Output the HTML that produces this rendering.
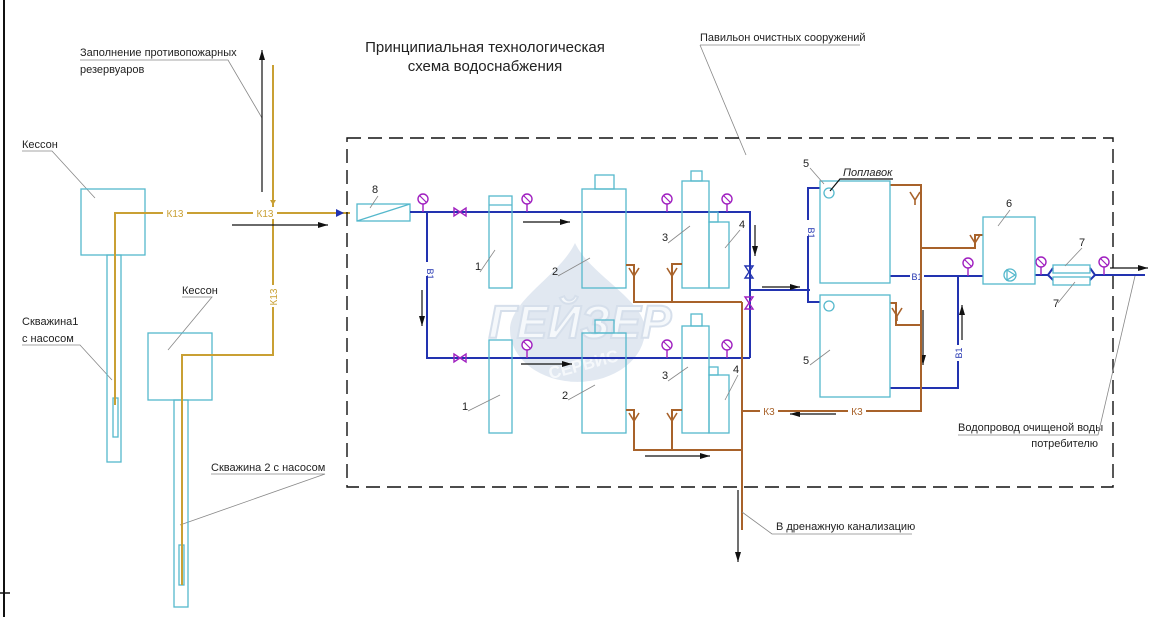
<!DOCTYPE html>
<html><head><meta charset="utf-8"><style>
html,body{margin:0;padding:0;background:#fff;}
svg{display:block;font-family:"Liberation Sans","DejaVu Sans",sans-serif;}
.t{font-size:11px;fill:#222;}
.c{fill:none;stroke:#55b8cc;stroke-width:1.3;}
.y{fill:none;stroke:#c9a034;stroke-width:2;}
.br{fill:none;stroke:#a8622a;stroke-width:2;}
.b{fill:none;stroke:#2233b0;stroke-width:2;}
.k{fill:none;stroke:#111;stroke-width:1.2;}
.l{fill:none;stroke:#888;stroke-width:0.8;}
.g{fill:#fff;stroke:#a020c0;stroke-width:1.4;}
</style></head><body>
<svg width="1151" height="617" viewBox="0 0 1151 617" xmlns="http://www.w3.org/2000/svg">
<defs>
<marker id="ah" markerWidth="10" markerHeight="6" refX="10" refY="3" orient="auto" markerUnits="userSpaceOnUse"><path d="M0,0 L10,3 L0,6z" fill="#111"/></marker>
<marker id="bh" markerWidth="8" markerHeight="6" refX="8" refY="3" orient="auto" markerUnits="userSpaceOnUse"><path d="M0,0 L8,3 L0,6z" fill="#2233b0"/></marker>
<g id="gauge"><line x1="0" y1="0" x2="0" y2="8" stroke="#a020c0" stroke-width="1.4"/><circle cx="0" cy="-5" r="5" class="g"/><line x1="-3.5" y1="-8.5" x2="3.5" y2="-1.5" stroke="#a020c0" stroke-width="1.2"/></g>
<g id="valve"><path d="M-6,-4 L6,4 L6,-4 L-6,4z" fill="none" stroke="#a020c0" stroke-width="1.4"/></g>
<g id="funnel"><path d="M-5,-5 L0,3 L5,-5 M0,3 V8" fill="none" stroke="#a8622a" stroke-width="1.6"/></g>
</defs>
<!-- left border -->
<line x1="4" y1="0" x2="4" y2="617" stroke="#111" stroke-width="2"/>
<line x1="0" y1="593" x2="10" y2="593" stroke="#111" stroke-width="1.5"/>

<!-- watermark -->
<g opacity="0.55">
<path d="M575,243 C560,275 510,300 510,330 A65,50 0 0 0 645,330 C645,300 590,275 575,243z" fill="#c9d6e6"/>
<text x="580" y="338" font-size="46" font-weight="bold" font-style="italic" fill="#eef3f8" stroke="#b5c6dc" stroke-width="2" text-anchor="middle">ГЕЙЗЕР</text>
<text x="585" y="370" font-size="17" font-weight="bold" fill="#eef3f8" text-anchor="middle" transform="rotate(-15 585 370)">СЕРВИС</text>
</g>

<!-- titles -->
<text x="485" y="52" font-size="15" fill="#222" text-anchor="middle">Принципиальная технологическая</text>
<text x="485" y="71" font-size="15" fill="#222" text-anchor="middle">схема водоснабжения</text>

<text x="80" y="56" class="t">Заполнение противопожарных</text>
<text x="80" y="73" class="t">резервуаров</text>
<polyline points="80,60 228,60 262,118" class="l"/>

<text x="700" y="41" class="t">Павильон очистных сооружений</text>
<polyline points="700,45 860,45" class="l"/><line x1="700" y1="45" x2="746" y2="155" class="l"/>

<text x="22" y="148" class="t">Кессон</text><polyline points="22,151 52,151 95,198" class="l"/>
<text x="182" y="294" class="t">Кессон</text><polyline points="182,297 212,297 168,350" class="l"/>
<text x="22" y="325" class="t">Скважина1</text><text x="22" y="342" class="t">с насосом</text>
<polyline points="22,345 80,345 112,380" class="l"/>
<text x="211" y="471" class="t">Скважина 2 с насосом</text>
<polyline points="211,474 325,474 180,525" class="l"/>

<!-- wells & kessons -->
<rect x="81" y="189" width="64" height="66" class="c"/>
<rect x="107" y="255" width="14" height="207" class="c"/>
<rect x="113" y="398" width="5" height="39" class="c"/>
<rect x="148" y="333" width="64" height="67" class="c"/>
<rect x="174" y="400" width="14" height="207" class="c"/>
<rect x="179" y="545" width="5" height="40" class="c"/>

<!-- yellow pipes -->
<polyline points="115,405 115,213 350,213" class="y"/>
<polyline points="273,65 273,355 182,355 182,585" class="y"/>
<rect x="163" y="207" width="24" height="12" fill="#fff"/><text x="175" y="217" font-size="10" fill="#c9a034" text-anchor="middle">К13</text>
<rect x="253" y="207" width="24" height="12" fill="#fff"/><text x="265" y="217" font-size="10" fill="#c9a034" text-anchor="middle">К13</text>
<rect x="267" y="285" width="12" height="22" fill="#fff"/><text x="277" y="297" font-size="10" fill="#c9a034" text-anchor="middle" transform="rotate(-90 277 297)">К13</text>
<path d="M270,200 L276,200 L273,205z" fill="#c9a034"/>
<line x1="262" y1="192" x2="262" y2="50" class="k" marker-end="url(#ah)"/>
<line x1="232" y1="225" x2="328" y2="225" class="k" marker-end="url(#ah)"/>
<path d="M336,209 L344,213 L336,217z" fill="#2233b0"/>

<!-- dashed pavilion -->
<rect x="347" y="138" width="766" height="349" fill="none" stroke="#111" stroke-width="1.4" stroke-dasharray="14,7"/>

<!-- filter 8 -->
<rect x="357" y="204" width="53" height="17" class="c"/><line x1="357" y1="221" x2="410" y2="204" class="c"/>
<text x="372" y="193" class="t">8</text><line x1="378" y1="196" x2="370" y2="208" class="l"/>

<!-- blue lines -->
<polyline points="410,212 750,212 750,358" class="b"/>
<polyline points="427,212 427,358 750,358" class="b"/>
<polyline points="750,290 810,290" class="b"/>
<polyline points="820,188 808,188 808,302 820,302" class="b"/>
<polyline points="890,276 983,276" class="b"/>
<polyline points="958,276 958,388 890,388" class="b"/>
<polyline points="1035,275 1048,275" class="b"/>
<path d="M1048,275 L1053,268 M1048,275 L1053,280 M1095,275 L1090,268 M1095,275 L1090,280" class="b" stroke-width="1.6"/>
<polyline points="1095,275 1145,275" class="b"/>
<rect x="419" y="262" width="14" height="14" fill="#fff"/><text x="432" y="269" font-size="9" fill="#2233b0" text-anchor="middle" transform="rotate(90 427 269)">В1</text>
<rect x="802" y="220" width="12" height="16" fill="#fff"/><text x="813" y="228" font-size="9" fill="#2233b0" text-anchor="middle" transform="rotate(90 808 228)">В1</text>
<rect x="910" y="270" width="14" height="12" fill="#fff"/><text x="917" y="280" font-size="9" fill="#2233b0" text-anchor="middle">В1</text>
<rect x="952" y="345" width="12" height="16" fill="#fff"/><text x="962" y="353" font-size="9" fill="#2233b0" text-anchor="middle" transform="rotate(-90 962 353)">В1</text>

<!-- valves & gauges -->
<use href="#valve" x="460" y="212"/><use href="#valve" x="460" y="358"/>
<g transform="translate(749,272) rotate(90)"><path d="M-6,-4 L6,4 L6,-4 L-6,4z" fill="none" stroke="#2233b0" stroke-width="1.4"/></g>
<g transform="translate(749,303) rotate(90)"><use href="#valve"/></g>
<use href="#gauge" x="423" y="204"/><use href="#gauge" x="527" y="204"/><use href="#gauge" x="667" y="204"/><use href="#gauge" x="727" y="204"/>
<use href="#gauge" x="527" y="350"/><use href="#gauge" x="667" y="350"/><use href="#gauge" x="727" y="350"/>
<use href="#gauge" x="968" y="268"/><use href="#gauge" x="1041" y="267"/><use href="#gauge" x="1104" y="267"/>

<!-- vessels top -->
<rect x="489" y="196" width="23" height="92" class="c"/><line x1="489" y1="205" x2="512" y2="205" class="c"/>
<rect x="582" y="189" width="44" height="99" class="c"/><rect x="595" y="175" width="19" height="14" class="c"/>
<rect x="682" y="181" width="27" height="107" class="c"/><rect x="691" y="171" width="11" height="10" class="c"/>
<rect x="709" y="222" width="20" height="66" class="c"/><rect x="709" y="212" width="9" height="10" class="c"/>
<!-- vessels bottom -->
<rect x="489" y="340" width="23" height="93" class="c"/>
<rect x="582" y="333" width="44" height="100" class="c"/><rect x="595" y="320" width="19" height="13" class="c"/>
<rect x="682" y="326" width="27" height="107" class="c"/><rect x="691" y="314" width="11" height="12" class="c"/>
<rect x="709" y="375" width="20" height="58" class="c"/><rect x="709" y="367" width="9" height="8" class="c"/>

<!-- labels -->
<text x="475" y="270" class="t">1</text><line x1="480" y1="272" x2="495" y2="250" class="l"/>
<text x="462" y="410" class="t">1</text><line x1="468" y1="411" x2="500" y2="395" class="l"/>
<text x="552" y="275" class="t">2</text><line x1="558" y1="276" x2="590" y2="258" class="l"/>
<text x="562" y="399" class="t">2</text><line x1="568" y1="400" x2="595" y2="385" class="l"/>
<text x="662" y="241" class="t">3</text><line x1="668" y1="243" x2="690" y2="226" class="l"/>
<text x="662" y="379" class="t">3</text><line x1="668" y1="381" x2="688" y2="367" class="l"/>
<text x="739" y="228" class="t">4</text><line x1="740" y1="230" x2="725" y2="248" class="l"/>
<text x="733" y="373" class="t">4</text><line x1="738" y1="375" x2="725" y2="400" class="l"/>

<!-- arrows -->
<line x1="523" y1="222" x2="570" y2="222" class="k" marker-end="url(#ah)"/>
<line x1="521" y1="364" x2="572" y2="364" class="k" marker-end="url(#ah)"/>
<line x1="422" y1="290" x2="422" y2="326" class="k" marker-end="url(#ah)"/>
<line x1="755" y1="225" x2="755" y2="256" class="k" marker-end="url(#ah)"/>
<line x1="762" y1="287" x2="800" y2="287" class="k" marker-end="url(#ah)"/>
<line x1="645" y1="456" x2="710" y2="456" class="k" marker-end="url(#ah)"/>
<line x1="836" y1="414" x2="790" y2="414" class="k" marker-end="url(#ah)"/>
<line x1="962" y1="340" x2="962" y2="305" class="k" marker-end="url(#ah)"/>
<line x1="738" y1="490" x2="738" y2="562" class="k" marker-end="url(#ah)"/>
<line x1="923" y1="310" x2="923" y2="365" class="k" marker-end="url(#ah)"/>
<line x1="1110" y1="268" x2="1148" y2="268" class="k" marker-end="url(#ah)"/>

<!-- brown drains -->
<polyline points="626,265 634,265 634,302 742,302" class="br"/>
<polyline points="682,264 672,264 672,302" class="br"/>
<polyline points="742,302 742,530" class="br"/>
<polyline points="626,410 634,410 634,450 742,450" class="br"/>
<polyline points="682,410 672,410 672,450" class="br"/>
<polyline points="742,411 921,411 921,185 890,185" class="br"/>
<polyline points="890,303 896,303 896,325 921,325" class="br"/>
<polyline points="921,248 975,248 975,235 983,235" class="br"/>
<use href="#funnel" x="634" y="273"/><use href="#funnel" x="672" y="273"/>
<use href="#funnel" x="634" y="418"/><use href="#funnel" x="672" y="418"/>
<use href="#funnel" x="915" y="197"/><use href="#funnel" x="897" y="313"/><use href="#funnel" x="975" y="240"/>
<rect x="760" y="405" width="18" height="12" fill="#fff"/><text x="769" y="415" font-size="10" fill="#a8622a" text-anchor="middle">К3</text>
<rect x="848" y="405" width="18" height="12" fill="#fff"/><text x="857" y="415" font-size="10" fill="#a8622a" text-anchor="middle">К3</text>

<!-- tanks 5 -->
<rect x="820" y="181" width="70" height="102" class="c"/>
<rect x="820" y="295" width="70" height="102" class="c"/>
<circle cx="829" cy="193" r="5" class="c"/><circle cx="829" cy="306" r="5" class="c"/>
<text x="803" y="167" class="t">5</text><line x1="810" y1="168" x2="824" y2="184" class="l"/>
<text x="803" y="364" class="t">5</text><line x1="810" y1="365" x2="830" y2="350" class="l"/>
<text x="843" y="176" font-size="11" font-style="italic" fill="#222">Поплавок</text>
<polyline points="893,179 840,179 830,191" class="k" stroke-width="0.9"/>

<!-- pump 6 -->
<rect x="983" y="217" width="52" height="67" class="c"/>
<circle cx="1010" cy="275" r="6" class="c"/><path d="M1007,270 L1015,275 L1007,280z" class="c"/>
<text x="1006" y="207" class="t">6</text><line x1="1010" y1="210" x2="998" y2="226" class="l"/>
<!-- filters 7 -->
<rect x="1053" y="265" width="37" height="8" class="c"/><rect x="1053" y="277" width="37" height="8" class="c"/>
<text x="1079" y="246" class="t">7</text><line x1="1082" y1="248" x2="1065" y2="266" class="l"/>
<text x="1053" y="307" class="t">7</text><line x1="1058" y1="303" x2="1075" y2="282" class="l"/>

<text x="958" y="431" class="t">Водопровод очищеной воды</text>
<text x="1098" y="447" class="t" text-anchor="end">потребителю</text>
<polyline points="958,435 1098,435 1135,276" class="l"/>

<text x="776" y="530" class="t">В дренажную канализацию</text>
<polyline points="742,512 772,534 912,534" class="l"/>
</svg>
</body></html>
